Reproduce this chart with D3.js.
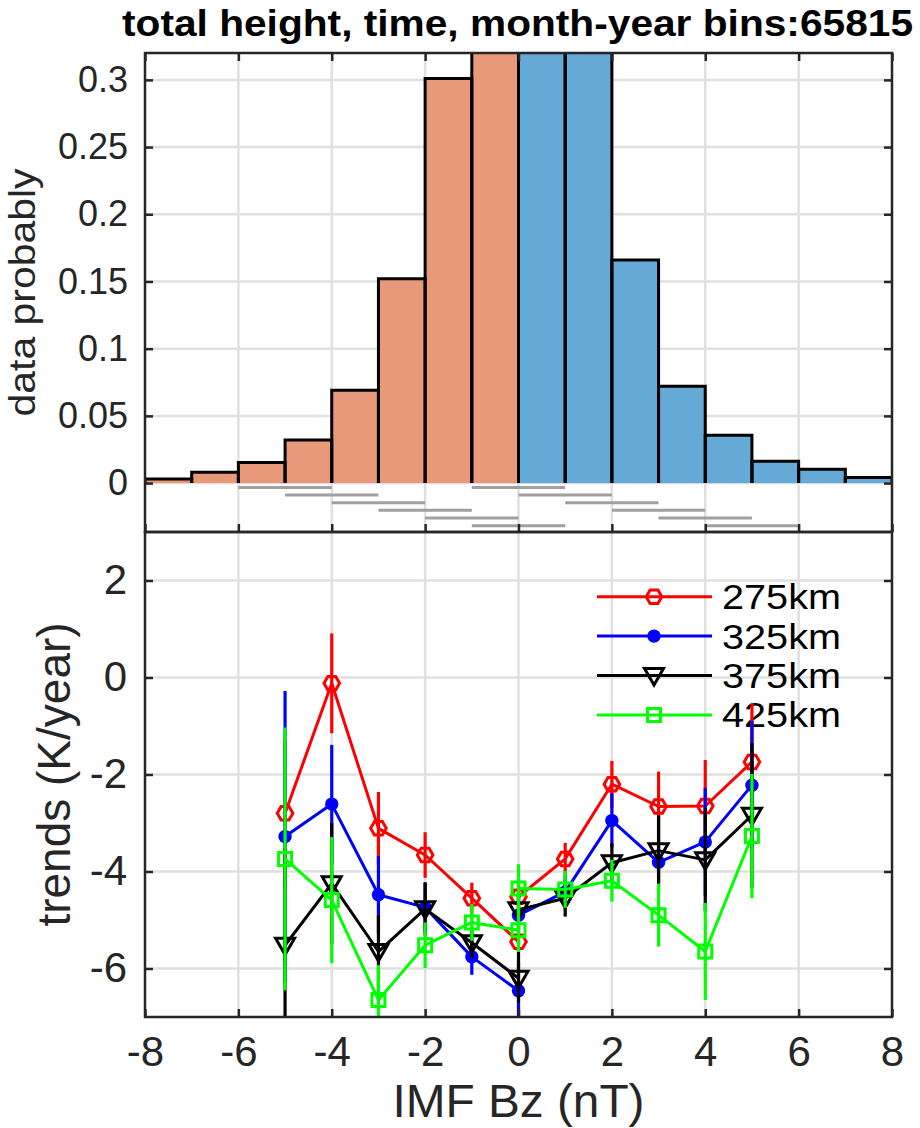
<!DOCTYPE html>
<html>
<head>
<meta charset="utf-8">
<script src="https://cdn.jsdelivr.net/npm/d3@7"></script>
<style>
  body { margin: 0; background: #fff; }
  text { font-family: "Liberation Sans", Arial, Helvetica, sans-serif; fill: #262626; }
</style>
</head>
<body>
<svg id="chart" width="920" height="1128"></svg>
<script>
// ---- histogram of IMF Bz (probability per 1 nT bin) ----
const binLo   = [-8, -7, -6, -5, -4, -3, -2, -1, 0, 1, 2, 3, 4, 5, 6, 7];
const binProb = [0.003, 0.008, 0.0154, 0.032, 0.069, 0.152, 0.301, 0.37,
                 0.38, 0.35, 0.166, 0.072, 0.0356, 0.0163, 0.0102, 0.0042];

// ---- 2 nT windows used for the trend fits (drawn as grey bars under the histogram) ----
const windowCenter = [-5, -4, -3, -2, -1, 0, 0, 1, 2, 3, 4, 5];
const windowLevels = [-0.0032, -0.0089, -0.0146, -0.0203, -0.0260, -0.0317];

// ---- trends per altitude ----
const bzCenter = [-5, -4, -3, -2, -1, 0, 0, 1, 2, 3, 4, 5];
const trend275 = [-2.80, -0.12, -3.11, -3.66, -4.55, -5.45, -4.52, -3.74, -2.20, -2.66, -2.65, -1.74];
const err275   = [1.5, 1.03, 0.75, 0.47, 0.32, 0.30, 0.35, 0.33, 0.48, 0.72, 0.95, 1.21];
const trend325 = [-3.28, -2.61, -4.48, -4.74, -5.76, -6.46, -4.90, -4.42, -2.95, -3.81, -3.39, -2.22];
const err325   = [3.0, 1.22, 0.80, 0.50, 0.37, 0.60, 0.40, 0.35, 0.56, 0.45, 1.11, 1.32];
const trend375 = [-5.52, -4.25, -5.65, -4.77, -5.47, -6.20, -4.79, -4.55, -3.82, -3.57, -3.76, -2.84];
const err375   = [2.0, 1.25, 0.75, 0.55, 0.31, 0.50, 0.40, 0.38, 0.40, 0.73, 1.06, 1.49];
const trend425 = [-3.74, -4.59, -6.65, -5.52, -5.05, -5.21, -4.35, -4.37, -4.19, -4.90, -5.65, -3.27];
const err425   = [2.71, 1.30, 0.72, 0.47, 0.38, 0.45, 0.50, 0.38, 0.43, 0.65, 1.00, 1.28];
const seriesNames  = ["275km", "325km", "375km", "425km"];
const seriesColors = ["#ff0000", "#0000ff", "#000000", "#00ff00"];
const seriesMarks  = ["hexagon", "circle", "triangleDown", "square"];

// ---- ticks ----
const bzTicks    = [-8, -6, -4, -2, 0, 2, 4, 6, 8];
const probTicks  = [0, 0.05, 0.1, 0.15, 0.2, 0.25, 0.3];
const trendTicks = [-6, -4, -2, 0, 2];

const svg = d3.select("#chart");
const L = 145, R = 892, T1 = 53, B1 = 532, T2 = 532, B2 = 1017;
const AX = "#262626", GRID = "#e0e0e0";

const x    = d3.scaleLinear().domain([-8, 8]).range([L, R]);
const yTop = d3.scaleLinear().domain([-0.0364, 0.32]).range([B1, T1]);
const yBot = d3.scaleLinear().domain([-7, 3]).range([B2, T2]);

const defs = svg.append("defs");
defs.append("clipPath").attr("id", "clipTop").append("rect")
  .attr("x", L).attr("y", T1).attr("width", R - L).attr("height", B1 - T1);
defs.append("clipPath").attr("id", "clipBot").append("rect")
  .attr("x", L).attr("y", T2).attr("width", R - L).attr("height", B2 - T2);

// ================= histogram panel =================
const histG = svg.append("g");
const gridTop = histG.append("g").attr("stroke", GRID).attr("stroke-width", 2.5);
bzTicks.filter(d => d > -8 && d < 8).forEach(d =>
  gridTop.append("line").attr("x1", x(d)).attr("x2", x(d)).attr("y1", T1).attr("y2", B1));
probTicks.forEach(d =>
  gridTop.append("line").attr("x1", L).attr("x2", R).attr("y1", yTop(d)).attr("y2", yTop(d)));

const bars = histG.append("g").attr("clip-path", "url(#clipTop)");
const binData = binLo.map((lo, i) => ({ lo, hi: lo + 1, p: binProb[i] }));
bars.selectAll("rect.bar").data(binData).join("rect")
  .attr("class", "bar")
  .attr("x", d => x(d.lo)).attr("width", d => x(d.hi) - x(d.lo))
  .attr("y", d => yTop(d.p)).attr("height", d => yTop(0) - yTop(d.p))
  .attr("fill", d => d.lo < 0 ? "#e8997a" : "#65aad7");
bars.selectAll("path.edge").data(binData).join("path")
  .attr("class", "edge")
  .attr("d", d => `M${x(d.lo)},${yTop(0)}V${yTop(d.p)}H${x(d.hi)}V${yTop(0)}`)
  .attr("fill", "none").attr("stroke", "#000").attr("stroke-width", 3);

// fit windows
histG.append("g").attr("clip-path", "url(#clipTop)")
  .selectAll("line").data(windowCenter).join("line")
  .attr("x1", d => x(d - 1)).attr("x2", d => x(d + 1))
  .attr("y1", (d, i) => yTop(windowLevels[i % 6]))
  .attr("y2", (d, i) => yTop(windowLevels[i % 6]))
  .attr("stroke", "#a0a0a0").attr("stroke-width", 3);

// ================= trend panel =================
const trendG = svg.append("g");
const gridBot = trendG.append("g").attr("stroke", GRID).attr("stroke-width", 2.5);
bzTicks.filter(d => d > -8 && d < 8).forEach(d =>
  gridBot.append("line").attr("x1", x(d)).attr("x2", x(d)).attr("y1", T2).attr("y2", B2));
trendTicks.forEach(d =>
  gridBot.append("line").attr("x1", L).attr("x2", R).attr("y1", yBot(d)).attr("y2", yBot(d)));

function markerPath(kind) {
  if (kind === "hexagon") {
    const r = 7.8, pts = d3.range(6).map(k => [r * Math.cos(k * Math.PI / 3), r * Math.sin(k * Math.PI / 3)]);
    return "M" + pts.map(p => p.join(",")).join("L") + "Z";
  }
  if (kind === "triangleDown") return "M-9.5,-7L9.5,-7L0,9.5Z";
  if (kind === "square") return "M-6.5,-6.5H6.5V6.5H-6.5Z";
  return d3.symbol(d3.symbolCircle, Math.PI * 6.7 * 6.7)();
}
function drawMarker(g, kind, color, cx, cy) {
  const filled = kind === "circle";
  g.append("path").attr("d", markerPath(kind))
    .attr("transform", `translate(${cx},${cy})`)
    .attr("fill", filled ? color : "none")
    .attr("stroke", color).attr("stroke-width", filled ? 0 : 3);
}

// legend (sits underneath the data)
const legend = trendG.append("g");
seriesNames.forEach((name, i) => {
  const yl = 596.7 + 39.4 * i;
  legend.append("line").attr("x1", 597).attr("x2", 712).attr("y1", yl).attr("y2", yl)
    .attr("stroke", seriesColors[i]).attr("stroke-width", 3);
  drawMarker(legend, seriesMarks[i], seriesColors[i], 654, yl);
  legend.append("text").attr("x", 722).attr("y", yl + 12.5)
    .attr("font-size", 35).attr("textLength", 119).attr("lengthAdjust", "spacingAndGlyphs")
    .style("fill", "#000").text(name);
});

const trends = [trend275, trend325, trend375, trend425];
const errs   = [err275, err325, err375, err425];
const dataG = trendG.append("g").attr("clip-path", "url(#clipBot)");
const line = d3.line().x(d => x(d.bz)).y(d => yBot(d.v));
trends.forEach((vals, s) => {
  const pts = bzCenter.map((bz, i) => ({ bz, v: vals[i], e: errs[s][i] }));
  const g = dataG.append("g");
  g.selectAll("line").data(pts).join("line")
    .attr("x1", d => x(d.bz)).attr("x2", d => x(d.bz))
    .attr("y1", d => yBot(d.v + d.e)).attr("y2", d => yBot(d.v - d.e))
    .attr("stroke", seriesColors[s]).attr("stroke-width", 3.2);
  g.append("path").datum(pts).attr("d", line)
    .attr("fill", "none").attr("stroke", seriesColors[s]).attr("stroke-width", 3)
    .attr("stroke-linejoin", "round");
  pts.forEach(d => drawMarker(g, seriesMarks[s], seriesColors[s], x(d.bz), yBot(d.v)));
});

// ================= axes =================
function styleAxis(g) {
  g.select(".domain").remove();
  g.selectAll(".tick line").attr("stroke", AX).attr("stroke-width", 2.5);
  g.selectAll(".tick text").style("fill", AX);
}
const fmt = d => String(d);

// histogram panel axes
svg.append("g").attr("transform", `translate(${L},0)`)
  .call(d3.axisLeft(yTop).tickValues(probTicks).tickFormat(fmt).tickSizeInner(-8).tickSizeOuter(0).tickPadding(17))
  .call(styleAxis).call(g => g.selectAll("text").attr("font-size", 36).attr("font-family", null));
svg.append("g").attr("transform", `translate(${R},0)`)
  .call(d3.axisRight(yTop).tickValues(probTicks).tickFormat("").tickSizeInner(-8).tickSizeOuter(0))
  .call(styleAxis);
svg.append("g").attr("transform", `translate(0,${T1})`)
  .call(d3.axisTop(x).tickValues(bzTicks).tickFormat("").tickSizeInner(-8).tickSizeOuter(0))
  .call(styleAxis);
svg.append("g").attr("transform", `translate(0,${B1})`)
  .call(d3.axisBottom(x).tickValues(bzTicks).tickFormat("").tickSizeInner(-8).tickSizeOuter(0))
  .call(styleAxis);

// trend panel axes
svg.append("g").attr("transform", `translate(${L},0)`)
  .call(d3.axisLeft(yBot).tickValues(trendTicks).tickFormat(fmt).tickSizeInner(-8).tickSizeOuter(0).tickPadding(18))
  .call(styleAxis).call(g => g.selectAll("text").attr("font-size", 42).attr("font-family", null));
svg.append("g").attr("transform", `translate(0,${B2})`)
  .call(d3.axisBottom(x).tickValues(bzTicks).tickFormat(fmt).tickSizeInner(-8).tickSizeOuter(0).tickPadding(19))
  .call(styleAxis).call(g => g.selectAll("text").attr("font-size", 42).attr("font-family", null));
svg.append("g").attr("transform", `translate(${R},0)`)
  .call(d3.axisRight(yBot).tickValues(trendTicks).tickFormat("").tickSizeInner(-8).tickSizeOuter(0))
  .call(styleAxis);

// frames
[[T1, B1], [T2, B2]].forEach(([t, b]) =>
  svg.append("rect").attr("x", L).attr("y", t).attr("width", R - L).attr("height", b - t)
    .attr("fill", "none").attr("stroke", AX).attr("stroke-width", 2.5));

// titles and labels
svg.append("text").attr("x", 517.5).attr("y", 36).attr("text-anchor", "middle")
  .attr("font-size", 36).attr("font-weight", "bold").style("fill", "#000")
  .attr("textLength", 791).attr("lengthAdjust", "spacingAndGlyphs")
  .text("total height, time, month-year bins:65815");
svg.append("text").attr("transform", `translate(35,${(T1 + B1) / 2}) rotate(-90)`)
  .attr("text-anchor", "middle").attr("font-size", 36)
  .attr("textLength", 248).attr("lengthAdjust", "spacingAndGlyphs")
  .text("data probably");
svg.append("text").attr("transform", `translate(70,${(T2 + B2) / 2}) rotate(-90)`)
  .attr("text-anchor", "middle").attr("font-size", 46)
  .text("trends (K/year)");
svg.append("text").attr("x", (L + R) / 2).attr("y", 1117).attr("text-anchor", "middle")
  .attr("font-size", 46).attr("textLength", 252).attr("lengthAdjust", "spacingAndGlyphs")
  .text("IMF Bz (nT)");
</script>
</body>
</html>
